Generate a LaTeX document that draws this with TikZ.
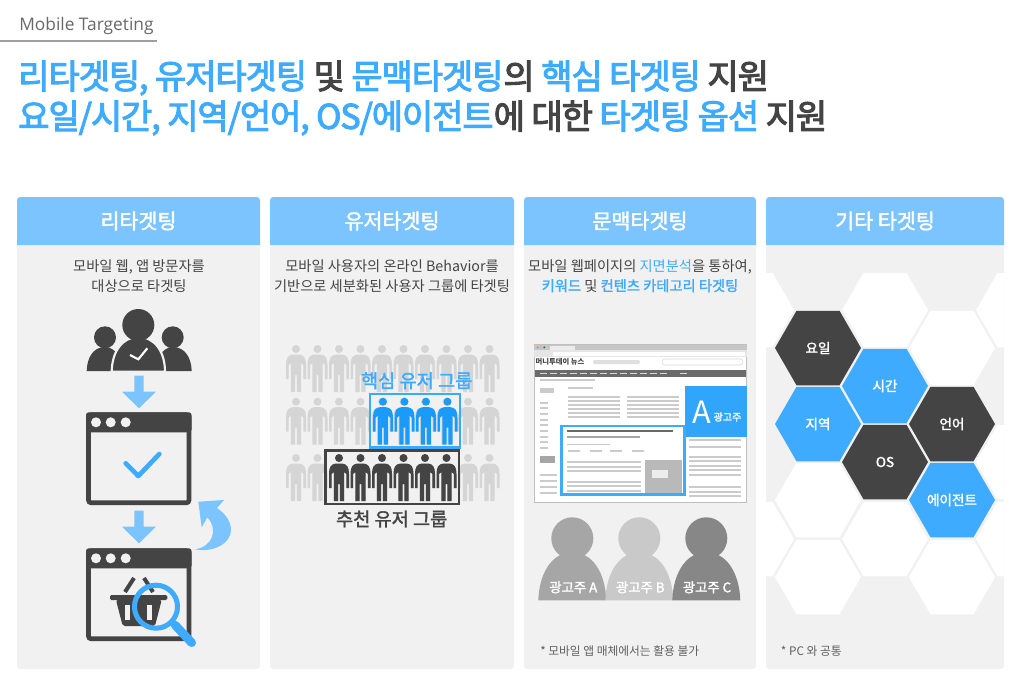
\documentclass[tikz,border=0pt]{standalone}
\usepackage{fontspec}
\usetikzlibrary{shapes.geometric}
\setmainfont{Noto Sans CJK KR}
\newfontfamily\latinfont{Open Sans}
\newfontfamily\titlefont[LetterSpace=-3.2,FakeBold=3]{Noto Sans CJK KR}
\newfontfamily\mediumfont[FakeBold=1.8]{Noto Sans CJK KR}
\definecolor{panelgray}{HTML}{F1F1F1}
\definecolor{headblue}{HTML}{7CC4FE}
\definecolor{wordblue}{HTML}{3FABFF}
\definecolor{coreblue}{HTML}{1A9BFA}
\definecolor{dark}{HTML}{444444}
\definecolor{crowdgray}{HTML}{D5D5D5}
\definecolor{webbar}{HTML}{CBCBCB}
\tikzset{
  x=0.75pt, y=-0.75pt,
  panelhead/.style={font=\fontsize{15.5}{15.5}\selectfont\mediumfont, text=white, inner sep=0pt},
  desctext/.style={font=\fontsize{10.7}{14.5}\selectfont, text=dark, align=center, inner sep=0pt},
  notetext/.style={font=\fontsize{8.8}{8.8}\selectfont, text=dark!85, anchor=west, inner sep=0pt},
  titletext/.style={font=\fontsize{25.5}{25.5}\selectfont\titlefont, anchor=west, inner sep=0pt},
  grouptext/.style={font=\fontsize{14}{14}\selectfont\mediumfont, inner sep=0pt},
  hexcell/.style={regular polygon, regular polygon sides=6, minimum size=64.5pt, inner sep=0pt, outer sep=0pt,
    font=\fontsize{10.2}{10.2}\selectfont\mediumfont, text=white},
  ownertext/.style={font=\fontsize{10}{10}\selectfont\mediumfont, text=white, inner sep=0pt},
  person/.pic={
    \path[pic actions] (0,4) circle[radius=4];
    \path[pic actions] (-3,9.5) -- (3,9.5) .. controls (8,10) and (10,13) .. (10,20) -- (10,34) -- (7.3,34) -- (7.3,20) -- (5.2,18)
      -- (5.2,47) -- (0.9,47) -- (0.9,30) -- (-0.9,30) -- (-0.9,47) -- (-5.2,47) -- (-5.2,18) -- (-7.3,20) -- (-7.3,34) -- (-10,34) -- (-10,20)
      .. controls (-10,13) and (-8,10) .. (-3,9.5) -- cycle;
  },
  browserwin/.pic={
    \draw[dark, line width=3.5pt, rounded corners=2pt] (2.5,2.5) rectangle (103,90.5);
    \fill[dark, rounded corners=2pt] (0,0) rectangle (105.5,20);
    \foreach \dotx in {10,24.7,39.7} \fill[panelgray] (\dotx,10) circle[radius=5];
  },
  downarrow/.pic={
    \fill[headblue] (-4.7,0) -- (4.7,0) -- (4.7,16) -- (17,16) -- (0,32.6) -- (-17,16) -- (-4.7,16) -- cycle;
  },
  owner/.pic={
    \path[pic actions] (-34,62) .. controls (-33,34) and (-20,14) .. (0,14) .. controls (20,14) and (33,34) .. (34,62) -- cycle;
    \path[pic actions] (0,0) circle[radius=21];
  },
}
\begin{document}
\begin{tikzpicture}
\useasboundingbox (0,0) rectangle (1024,687);
\fill[white] (0,0) rectangle (1024,687);

% heading
\node[font=\fontsize{13}{13}\selectfont\latinfont, text=dark!80, anchor=west, inner sep=0pt] (kicker) at (19,26) {Mobile Targeting};
\draw[gray!75, line width=2pt] (0,41) -- (157,41);
\node[titletext] (titleone) at (18,78) {\textcolor{wordblue}{리타겟팅, 유저타겟팅} \textcolor{dark}{및} \textcolor{wordblue}{문맥타겟팅}\textcolor{dark}{의} \textcolor{wordblue}{핵심 타겟팅} \textcolor{dark}{지원}};
\node[titletext] (titletwo) at (18,118) {\textcolor{wordblue}{요일/시간, 지역/언어, OS/에이전트}\textcolor{dark}{에 대한} \textcolor{wordblue}{타겟팅 옵션} \textcolor{dark}{지원}};

% panels
\foreach \xa/\xb in {17/260,270/514,524/756,766/1004} {
  \fill[panelgray, rounded corners=2.5pt] (\xa,197) rectangle (\xb,669);
  \fill[headblue] (\xa,245) [rounded corners=2.5pt] -- (\xa,197) -- (\xb,197) [sharp corners] -- (\xb,245) -- cycle;
}
\node[panelhead] (headre) at (138.5,221) {리타겟팅};
\node[panelhead] (headuser) at (392,221) {유저타겟팅};
\node[panelhead] (headcontext) at (640,221) {문맥타겟팅};
\node[panelhead] (headother) at (885,221) {기타 타겟팅};

\node[desctext] (descre) at (139,276) {모바일 웹, 앱 방문자를\\대상으로 타겟팅};
\node[desctext] (descuser) at (392,276) {모바일 사용자의 온라인 Behavior를\\기반으로 세분화된 사용자 그룹에 타겟팅};
\node[desctext] (desccontext) at (640,276) {모바일 웹페이지의 \textcolor{wordblue}{지면분석}을 통하여,\\\textcolor{wordblue}{\mediumfont 키워드} 및 \textcolor{wordblue}{\mediumfont 컨텐츠 카테고리 타겟팅}};

% retargeting icons
\fill[dark] (105,337.3) circle[radius=11];
\fill[dark] (172.7,337.3) circle[radius=11];
\fill[dark] (86.7,371) .. controls (87,358) and (93,347) .. (105,347) .. controls (115,347) and (122,358) .. (123,371) -- cycle;
\fill[dark] (191.7,371) .. controls (191.4,358) and (185,347) .. (173,347) .. controls (163,347) and (156,358) .. (155,371) -- cycle;
\fill[dark, draw=panelgray, line width=1.6pt] (111.7,371.7) .. controls (112,352) and (122,337) .. (138.3,337) .. controls (155,337) and (165,352) .. (165,371.7) -- cycle;
\fill[dark] (138.3,325) circle[radius=16];
\draw[white, line width=1.6pt] (130,355) -- (138.3,359.3) -- (147.3,348.3);
\pic at (139,375.7) {downarrow};
\pic at (86,412.3) {browserwin};
\draw[wordblue, line width=3.5pt, line cap=round, line join=round] (125.7,463.3) -- (138.3,476) -- (159.3,454);
\pic at (139,510.7) {downarrow};
\pic at (86,548.3) {browserwin};
\fill[headblue] (198.3,501.7) -- (224,500) -- (217,508) .. controls (226,514) and (231,522) .. (231,530)
  .. controls (231,543) and (214,553) .. (195,549.3) .. controls (212,547) and (219,530) .. (207.3,517.3) -- (201.7,527.3) -- cycle;
% basket
\draw[dark, line width=3pt] (125,592) -- (134,578) (144,578) -- (153,592);
\fill[dark, rounded corners=1pt] (110,595) rectangle (167.3,600);
\fill[dark, rounded corners=1.5pt] (116,600) -- (161.7,600) -- (155,626) -- (122.7,626) -- cycle;
\foreach \slotx in {125,147} \fill[panelgray] (\slotx,605) rectangle ++(5,15);
\draw[wordblue, line width=3.8pt] (156,606.7) circle[radius=21.5];
\draw[wordblue, line width=6.5pt, line cap=round] (175,625) -- (191.7,642.7);

% user crowd
\foreach \rowy in {345,397.7,454} \foreach \k in {0,...,9}
  \pic[fill=crowdgray] at (296+21.5*\k,\rowy) {person};
\foreach \k in {4,...,7} \pic[fill=coreblue] at (297+21.5*\k,397.7) {person};
\foreach \k in {2,...,7} \pic[fill=dark] at (296+21.5*\k,454) {person};
\draw[coreblue!85!white, line width=2pt] (370,394) rectangle (460,447.3);
\draw[dark, line width=2pt] (325.7,450.7) rectangle (459,504);
\node[grouptext, text=wordblue] (groupcore) at (416.7,380.7) {핵심 유저 그룹};
\node[grouptext, text=dark] (grouprec) at (391.7,519) {추천 유저 그룹};

% web page
\fill[white, draw=gray!50, line width=0.6pt] (534.3,344.7) rectangle (746.7,502.3);
\fill[gray!45] (534.3,344.7) rectangle (746.7,350);
\fill[gray!20] (534.3,350) rectangle (746.7,356.7);
\fill[white] (553,351.5) rectangle (745,355.5);
\fill[gray!15] (550,345.5) rectangle (575,350);
\foreach \dotx/\dotc in {537.7/red!60,541/orange!70,544.3/green!50!black} \fill[\dotc] (\dotx,347.3) circle[radius=1];
\node[font=\fontsize{5.5}{5.5}\selectfont\bfseries, text=dark, inner sep=0pt] (masthead) at (560,361.7) {머니투데이 뉴스};
\fill[gray!25, rounded corners=1pt] (593,360) rectangle (640,364);
\draw[gray!30, line width=0.4pt, rounded corners=2pt] (662,359) rectangle (743,365);
\fill[black!58] (535,370) rectangle (746,376.7);
\foreach \navx in {540,550,560,570,580,590,600,610,620,630,640,650,660,680} \fill[gray!30] (\navx,372.5) rectangle ++(7,1.6);
\foreach \bary in {396,400,404,408,412,416} {
  \fill[webbar] (568,\bary) rectangle ++(52,1.9);
  \fill[webbar] (627,\bary) rectangle ++(52,1.9);
}
\foreach \bary in {401.7,407.3,413,418.7,424.3,430,435.7,441.3,447} \fill[webbar] (540,\bary) rectangle ++(8,2);
\fill[webbar] (540,388) rectangle ++(14,5);
\fill[gray!70] (540,456) rectangle ++(15,7);
\foreach \bary in {474,480,486,492} \fill[webbar] (540,\bary) rectangle ++(17,1.9);
\fill[webbar] (540,379) rectangle ++(55,2);
\fill[webbar] (568,387) rectangle ++(25,2);
\fill[dark!80] (567,429.5) rectangle (673,432.4);
\fill[gray!70] (567,436) rectangle (640,437.9);
\fill[webbar] (567,443.5) rectangle (610,445.4);
\foreach \tagx in {568,590,610,632} \fill[webbar] (\tagx,449.5) rectangle ++(12,2.2);
\foreach \bary in {461,465.5,470,480.5,485,490} \fill[webbar] (567,\bary) rectangle ++(74,2);
\fill[gray!55] (645,460) rectangle (682.3,492.7);
\fill[gray!15] (652,470) rectangle (668,478);
\foreach \bary in {439,446,455.5,460,464.5,469,473.5,486,490.5,495} \fill[webbar] (689,\bary) rectangle ++(52,2);
\fill[coreblue!90!white] (685,386) rectangle (746.7,436.7);
\node[font=\fontsize{23}{23}\selectfont, text=white, inner sep=0pt] (bigad) at (701.7,412.7) {A};
\node[font=\fontsize{7.5}{7.5}\selectfont\mediumfont, text=white, inner sep=0pt] (bigadword) at (727.5,417) {광고주};
\draw[wordblue, line width=2pt] (561.7,426) rectangle (684.3,494.3);

% advertisers
\pic[fill=black!35] at (572.3,538.3) {owner};
\pic[fill=black!21] at (639.3,538.3) {owner};
\pic[fill=black!47] at (706.3,538.3) {owner};
\node[ownertext] (ownera) at (573.3,587.3) {광고주 A};
\node[ownertext] (ownerb) at (640.3,587.3) {광고주 B};
\node[ownertext] (ownerc) at (707,587.3) {광고주 C};
\node[notetext] (notecontext) at (540,650.7) {* 모바일 앱 매체에서는 활용 불가};

% hexagons
\begin{scope}
\clip (766,250) rectangle (1004,640);
\foreach \hexx/\hexy in {751/310,751/539,818/500,818/577,885/310,885/539,952/348,952/577,1019/310,1019/462,1019/539}
  \node[hexcell, fill=white] at (\hexx,\hexy) {};
\end{scope}
\node[hexcell, fill=dark] (hexday) at (818,348) {요일};
\node[hexcell, fill=wordblue] (hextime) at (885,386) {시간};
\node[hexcell, fill=wordblue] (hexarea) at (818,424) {지역};
\node[hexcell, fill=dark] (hexlang) at (952,424) {언어};
\node[hexcell, fill=dark] (hexos) at (885,462) {OS};
\node[hexcell, fill=wordblue] (hexagent) at (952,500) {에이전트};
\node[notetext] (noteother) at (780.7,650.7) {* PC 와 공통};
\end{tikzpicture}
\end{document}
